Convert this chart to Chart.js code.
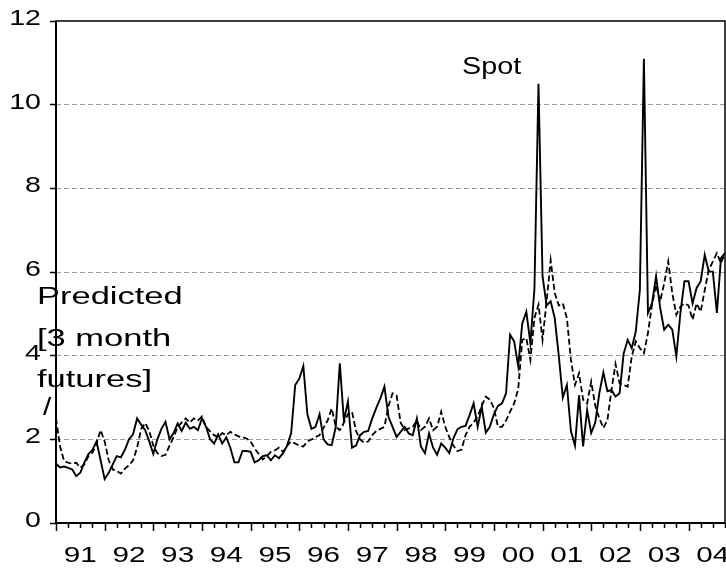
<!DOCTYPE html>
<html>
<head>
<meta charset="utf-8">
<script src="https://cdn.jsdelivr.net/npm/chart.js@4.4.1/dist/chart.umd.min.js"></script>
<style>
  html, body { margin: 0; padding: 0; background: #fff; }
  #wrap { width: 726px; height: 571px; }
</style>
</head>
<body>
<div id="wrap"><canvas id="chart" width="726" height="571"></canvas></div>
<script>
// Monthly data, Jan 1991 .. Oct 2004 (index 0 = Jan 1991)
const yearLabels = ['91', '92', '93', '94', '95', '96', '97', '98', '99', '00', '01', '02', '03', '04'];
const yTicks = [0, 2, 4, 6, 8, 10, 12];

// Spot (solid line)
const spot = [
  1.42, 1.33, 1.35, 1.32, 1.28, 1.12, 1.20, 1.45, 1.65, 1.75, 1.95, 1.50,
  1.05, 1.20, 1.40, 1.60, 1.57, 1.75, 2.00, 2.12, 2.50, 2.35, 2.22, 1.95,
  1.65, 2.00, 2.25, 2.42, 2.00, 2.15, 2.38, 2.20, 2.40, 2.25, 2.30, 2.22,
  2.50, 2.30, 2.00, 1.90, 2.12, 1.90, 2.05, 1.80, 1.45, 1.45, 1.72, 1.72,
  1.70, 1.45, 1.50, 1.60, 1.62, 1.50, 1.62, 1.55, 1.67, 1.85, 2.15, 3.30,
  3.45, 3.75, 2.60, 2.25, 2.30, 2.60, 2.00, 1.88, 1.86, 2.30, 3.82, 2.45,
  2.90, 1.80, 1.85, 2.10, 2.18, 2.20, 2.50, 2.75, 2.98, 3.26, 2.54, 2.30,
  2.06, 2.18, 2.30, 2.14, 2.10, 2.50, 1.83, 1.67, 2.14, 1.80, 1.63, 1.90,
  1.80, 1.67, 2.02, 2.24, 2.30, 2.32, 2.58, 2.86, 2.30, 2.78, 2.16, 2.30,
  2.60, 2.80, 2.86, 3.10, 4.50, 4.34, 3.75, 4.77, 5.05, 4.30, 5.60, 10.50,
  5.90, 5.20, 5.30, 4.90, 4.00, 3.00, 3.30, 2.20, 1.85, 3.05, 1.83, 2.70,
  2.15, 2.40, 3.10, 3.60, 3.15, 3.18, 3.02, 3.10, 4.05, 4.38, 4.18, 4.58,
  5.57, 11.10, 5.02, 5.25, 5.90, 5.15, 4.62, 4.74, 4.62, 3.98, 5.02, 5.78,
  5.78, 5.25, 5.62, 5.78, 6.41, 6.01, 6.01, 5.02, 6.33, 6.45
];

// Predicted [3 month futures] (dashed line)
const predicted = [
  2.50, 1.83, 1.48, 1.44, 1.42, 1.44, 1.32, 1.40, 1.60, 1.68, 1.90, 2.22,
  1.95, 1.50, 1.28, 1.24, 1.18, 1.30, 1.38, 1.50, 1.80, 2.25, 2.39, 2.20,
  1.85, 1.67, 1.60, 1.63, 1.85, 2.05, 2.30, 2.40, 2.50, 2.40, 2.50, 2.45,
  2.55, 2.30, 2.19, 2.10, 2.05, 2.15, 2.10, 2.18, 2.12, 2.07, 2.05, 2.02,
  1.95, 1.78, 1.65, 1.52, 1.60, 1.70, 1.74, 1.80, 1.70, 1.85, 1.95, 1.90,
  1.85, 1.83, 1.95, 2.00, 2.05, 2.10, 2.28, 2.45, 2.74, 2.30, 2.22, 2.40,
  2.60, 2.66, 2.20, 2.00, 1.92, 1.95, 2.10, 2.20, 2.25, 2.30, 2.80, 3.10,
  3.05, 2.40, 2.22, 2.26, 2.30, 2.45, 2.22, 2.30, 2.50, 2.22, 2.30, 2.66,
  2.30, 2.05, 1.85, 1.72, 1.75, 2.10, 2.30, 2.40, 2.55, 2.80, 3.02, 2.95,
  2.75, 2.30, 2.30, 2.45, 2.66, 2.86, 3.20, 4.38, 4.42, 3.90, 4.90, 5.22,
  4.38, 5.30, 6.28, 5.50, 5.20, 5.25, 4.90, 3.90, 3.30, 3.58, 2.95, 2.86,
  3.38, 2.80, 2.50, 2.27, 2.46, 3.18, 3.80, 3.34, 3.30, 3.26, 3.98, 4.34,
  4.18, 4.06, 4.54, 5.22, 5.69, 5.29, 5.73, 6.25, 5.49, 4.98, 5.17, 5.25,
  5.20, 4.86, 5.25, 5.05, 5.57, 6.05, 6.25, 6.45, 6.21, 6.45
];

const FONT = '"Liberation Sans", Arial, Helvetica, sans-serif';

// draw text stretched horizontally (the original graphic is wide-set)
function wideText(ctx, text, x, y, stretch, align) {
  ctx.save();
  ctx.translate(x, y);
  ctx.scale(stretch, 1);
  ctx.textAlign = align;
  ctx.fillText(text, 0, 0);
  ctx.restore();
}

// Quarterly tick marks under the x axis, longer at year starts
const xTickMarks = {
  id: 'xTickMarks',
  afterDraw(chart) {
    const { ctx, chartArea } = chart;
    const xs = chart.scales.x;
    ctx.save();
    ctx.strokeStyle = '#000';
    ctx.lineWidth = 1.5;
    for (let m = 0; m <= xs.max; m += 3) {
      const px = Math.round(xs.getPixelForValue(m)) + 0.5;
      const len = m % 12 === 0 ? 8 : 5;
      ctx.beginPath();
      ctx.moveTo(px, chartArea.bottom);
      ctx.lineTo(px, chartArea.bottom + len);
      ctx.stroke();
    }
    ctx.restore();
  }
};

// Axis labels, placed from the scales
const axisLabels = {
  id: 'axisLabels',
  afterDraw(chart) {
    const { ctx, chartArea } = chart;
    const xs = chart.scales.x;
    const ys = chart.scales.y;
    ctx.save();
    ctx.fillStyle = '#000';
    ctx.font = '22px ' + FONT;
    ctx.textBaseline = 'middle';
    yTicks.forEach(v => {
      wideText(ctx, String(v), 41, ys.getPixelForValue(v) - 2, 1.3, 'right');
    });
    yearLabels.forEach((lab, i) => {
      wideText(ctx, lab, xs.getPixelForValue(i * 12 + 6), chartArea.bottom + 33, 1.35, 'center');
    });
    ctx.restore();
  }
};

// Plot frame
const frame = {
  id: 'frame',
  afterDraw(chart) {
    const { ctx, chartArea: a } = chart;
    ctx.save();
    ctx.strokeStyle = '#000';
    ctx.lineWidth = 1.5;
    ctx.strokeRect(a.left, a.top, a.right - a.left, a.bottom - a.top);
    ctx.lineWidth = 2;
    ctx.beginPath();
    ctx.moveTo(a.left, a.top);
    ctx.lineTo(a.left, a.bottom);
    ctx.lineTo(a.right, a.bottom);
    ctx.stroke();
    ctx.restore();
  }
};

// Series labels written on the plot
const seriesText = {
  id: 'seriesText',
  afterDraw(chart) {
    const { ctx } = chart;
    ctx.save();
    ctx.fillStyle = '#000';
    ctx.font = '23px ' + FONT;
    ctx.textBaseline = 'middle';
    wideText(ctx, 'Spot', 462, 68, 1.25, 'left');
    wideText(ctx, 'Predicted', 37, 298, 1.5, 'left');
    wideText(ctx, '[3 month', 37, 340, 1.5, 'left');
    wideText(ctx, 'futures]', 37, 381, 1.5, 'left');
    wideText(ctx, '/', 43, 409, 1.3, 'left');
    ctx.restore();
  }
};

new Chart(document.getElementById('chart'), {
  type: 'line',
  data: {
    datasets: [
      {
        label: 'Spot',
        data: spot.map((v, i) => ({ x: i, y: v })),
        borderColor: '#000',
        borderWidth: 1.9,
        pointRadius: 0,
        tension: 0,
        fill: false
      },
      {
        label: 'Predicted [3 month futures]',
        data: predicted.map((v, i) => ({ x: i, y: v })),
        borderColor: '#000',
        borderWidth: 1.8,
        borderDash: [6, 3],
        pointRadius: 0,
        tension: 0,
        fill: false
      }
    ]
  },
  options: {
    responsive: false,
    animation: false,
    devicePixelRatio: 1,
    layout: { padding: { top: 21, right: 1, left: 0, bottom: 0 } },
    plugins: {
      legend: { display: false },
      tooltip: { enabled: false }
    },
    scales: {
      x: {
        type: 'linear',
        min: 0,
        max: spot.length - 1,
        afterBuildTicks: (s) => {
          s.ticks = yearLabels.map((_, i) => ({ value: i * 12 + 6 }));
        },
        afterFit: (s) => {
          s.height = 48;
          s.paddingLeft = 0;
          s.paddingRight = 0;
        },
        ticks: { display: false },
        grid: { display: false },
        border: { display: false }
      },
      y: {
        min: 0,
        max: 12,
        afterBuildTicks: (s) => {
          s.ticks = yTicks.map(v => ({ value: v }));
        },
        afterFit: (s) => {
          s.width = 56;
          s.paddingTop = 0;
          s.paddingBottom = 0;
        },
        ticks: { display: false },
        grid: {
          color: (c) => (c.tick && (c.tick.value === 0 || c.tick.value === 12)) ? 'rgba(0,0,0,0)' : '#9a9a9a',
          lineWidth: 1,
          tickLength: 6,
          tickColor: '#000',
          tickWidth: 1.5
        },
        border: { display: false, dash: [5, 3] }
      }
    }
  },
  plugins: [xTickMarks, frame, axisLabels, seriesText]
});
</script>
</body>
</html>
